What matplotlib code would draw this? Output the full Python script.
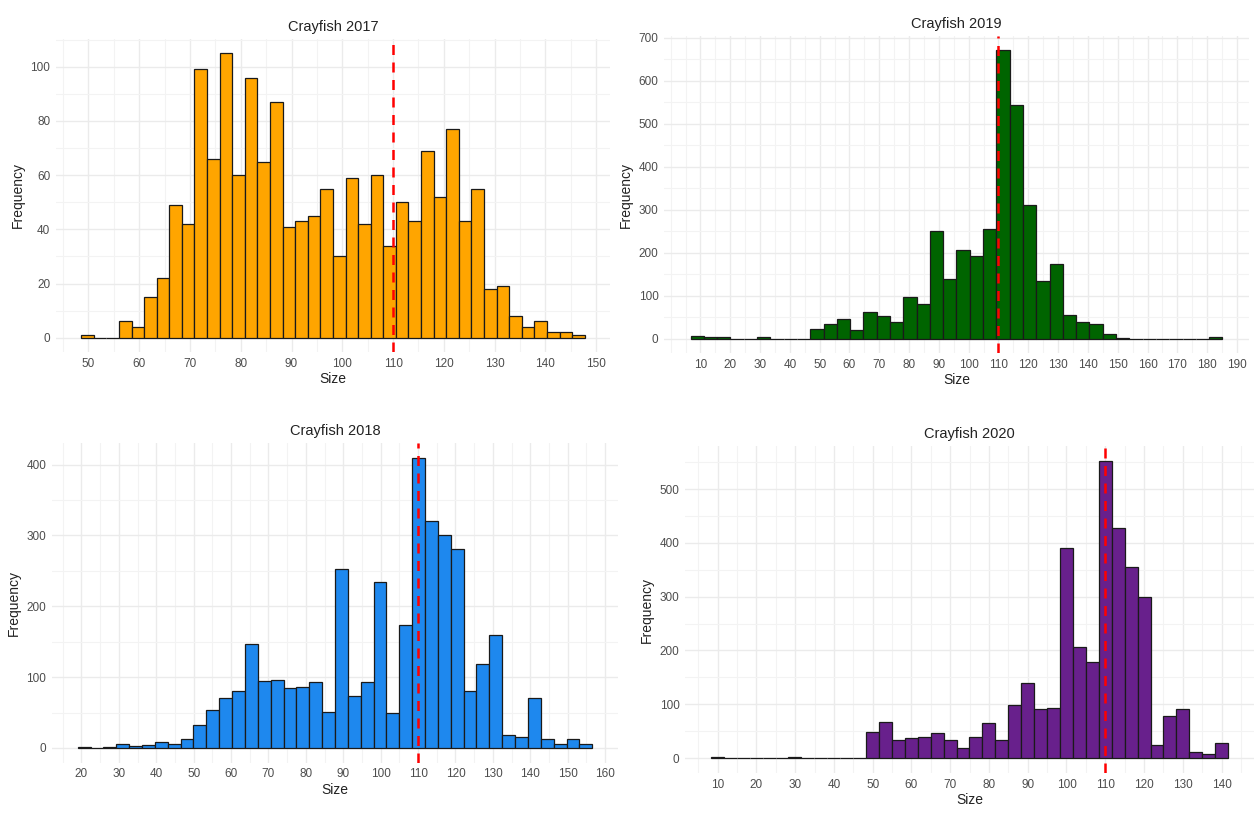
import numpy as np
import matplotlib.pyplot as plt
from matplotlib.ticker import MultipleLocator

plt.rcParams["font.family"] = ["Liberation Sans", "DejaVu Sans"]

# histogram counts (40 bins each)
counts_2017 = [1, 0, 0, 6, 4, 15, 22, 49, 42, 99, 66, 105, 60, 96, 65, 87, 41, 43, 45, 55,
               30, 59, 42, 60, 34, 50, 43, 69, 52, 77, 43, 55, 18, 19, 8, 4, 6, 2, 2, 1]
counts_2019 = [5, 3, 3, 0, 0, 3, 0, 0, 0, 22, 34, 46, 19, 62, 52, 39, 96, 81, 250, 138,
               207, 193, 255, 670, 543, 310, 135, 174, 55, 38, 35, 10, 2, 0, 0, 0, 0, 0, 0, 4]
counts_2018 = [1, 0, 1, 6, 3, 4, 9, 6, 13, 33, 53, 70, 80, 147, 94, 96, 84, 86, 93, 51,
               252, 73, 93, 235, 50, 174, 410, 321, 300, 281, 80, 118, 160, 19, 15, 71, 12, 6, 12, 6]
counts_2020 = [2, 0, 0, 0, 0, 0, 2, 0, 0, 1, 1, 0, 48, 68, 34, 38, 40, 47, 34, 19,
               39, 65, 34, 99, 139, 91, 94, 391, 207, 178, 552, 428, 356, 300, 24, 79, 91, 12, 7, 28]

# first bin edge and bin width for each year
bin_start = {"2017": 48.56, "2019": 6.71, "2018": 18.98, "2020": 8.23}
bin_width = {"2017": 2.48, "2019": 4.46, "2018": 3.44, "2020": 3.337}

# x tick labels shown on each panel
xticks_2017 = list(range(50, 151, 10))
xticks_2019 = list(range(10, 191, 10))
xticks_2018 = list(range(20, 161, 10))
xticks_2020 = list(range(10, 141, 10))

ref_size = 110

panels = [
    ("2017", counts_2017, xticks_2017, "#FFA500", [0.0446, 0.5692, 0.4414, 0.3831], 20),
    ("2019", counts_2019, xticks_2019, "#006400", [0.5291, 0.5679, 0.4661, 0.3880], 100),
    ("2018", counts_2018, xticks_2018, "#1E88EE", [0.0414, 0.0667, 0.4510, 0.3910], 100),
    ("2020", counts_2020, xticks_2020, "#68208C", [0.5458, 0.0539, 0.4534, 0.4000], 100),
]

fig = plt.figure(figsize=(12.55, 8.17), dpi=100)

for year, counts, xticks, color, rect, ystep in panels:
    ax = fig.add_axes(rect)
    w = bin_width[year]
    edges = bin_start[year] + w * np.arange(len(counts))
    ax.bar(edges, counts, width=w, align="edge", color=color,
           edgecolor="#1a1a1a", linewidth=0.9, zorder=2)
    ax.axvline(ref_size, color="red", linestyle=(0, (4, 3)), linewidth=1.8, zorder=3)

    ax.use_sticky_edges = False
    ax.margins(x=0.05, y=0.05)

    ax.set_xticks(xticks)
    ax.xaxis.set_minor_locator(MultipleLocator(5))
    ax.yaxis.set_major_locator(MultipleLocator(ystep))
    ax.yaxis.set_minor_locator(MultipleLocator(ystep / 2))
    ax.grid(which="major", color="#EBEBEB", linewidth=1.0, zorder=0)
    ax.grid(which="minor", color="#F3F3F3", linewidth=0.8, zorder=0)
    ax.set_axisbelow(True)

    for s in ax.spines.values():
        s.set_visible(False)
    ax.tick_params(which="both", length=0, labelsize=8.5, labelcolor="#4D4D4D", pad=4)

    ax.set_title(f"Crayfish {year}", fontsize=10.5, color="#222222", pad=6)
    ax.set_xlabel("Size", fontsize=10, color="#222222", labelpad=2)
    ax.set_ylabel("Frequency", fontsize=10, color="#222222", labelpad=4)

fig.savefig("out.png", dpi=100, facecolor="white")
